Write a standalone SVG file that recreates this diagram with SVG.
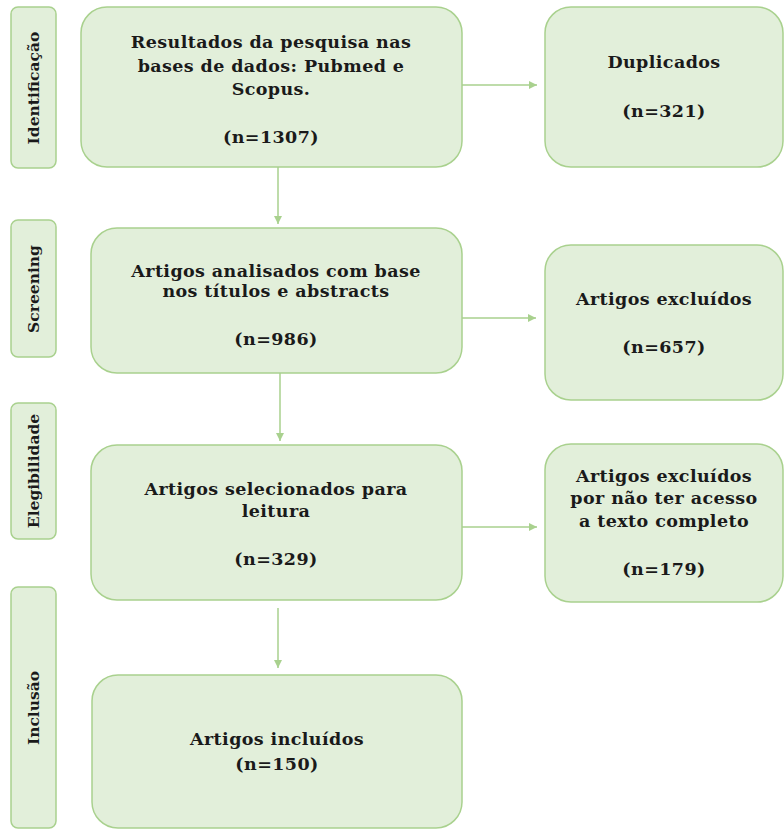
<svg xmlns="http://www.w3.org/2000/svg" width="784" height="830" viewBox="0 0 784 830">
<defs>
<style>
.box{fill:#e2efda;stroke:#a9d18e;stroke-width:1.5}
.t{font-family:"DejaVu Serif","Liberation Serif",serif;font-weight:bold;font-size:17.5px;letter-spacing:0.4px;fill:#1a1a1a;text-anchor:middle}
.s{font-family:"DejaVu Serif","Liberation Serif",serif;font-weight:bold;font-size:15.5px;fill:#1a1a1a;text-anchor:middle}
.c{stroke:#a9d18e;stroke-width:1.5;fill:none}
</style>
<marker id="ah" viewBox="0 0 10 10" refX="10" refY="5" markerWidth="8" markerHeight="8" markerUnits="userSpaceOnUse" orient="auto">
<path d="M0,0 L10,5 L0,10 z" fill="#a9d18e"/>
</marker>
</defs>
<g id="lbl-identificacao"><rect class="box" x="11" y="7" width="45" height="161" rx="7"/><text class="s" transform="translate(39,88) rotate(-90)">Identificação</text></g>
<g id="lbl-screening"><rect class="box" x="11" y="220" width="45" height="137" rx="7"/><text class="s" transform="translate(39,289) rotate(-90)">Screening</text></g>
<g id="lbl-elegibilidade"><rect class="box" x="11" y="403" width="45" height="136" rx="7"/><text class="s" transform="translate(39,471) rotate(-90)">Elegibilidade</text></g>
<g id="lbl-inclusao"><rect class="box" x="11" y="587" width="45" height="241" rx="7"/><text class="s" transform="translate(39,708) rotate(-90)">Inclusão</text></g>

<g id="n1"><rect class="box" x="81" y="7" width="381" height="160" rx="26"/>
<text class="t" x="271" y="48">Resultados da pesquisa nas</text>
<text class="t" x="271" y="72">bases de dados: Pubmed e</text>
<text class="t" x="271" y="95">Scopus.</text>
<text class="t" x="271" y="143">(n=1307)</text></g>
<g id="n2"><rect class="box" x="545" y="7" width="238" height="160" rx="26"/>
<text class="t" x="664" y="68">Duplicados</text>
<text class="t" x="664" y="117">(n=321)</text></g>
<g id="n3"><rect class="box" x="91" y="228" width="371" height="145" rx="26"/>
<text class="t" x="276" y="277">Artigos analisados com base</text>
<text class="t" x="276" y="297">nos títulos e abstracts</text>
<text class="t" x="276" y="345">(n=986)</text></g>
<g id="n4"><rect class="box" x="545" y="245" width="238" height="155" rx="26"/>
<text class="t" x="664" y="305">Artigos excluídos</text>
<text class="t" x="664" y="353">(n=657)</text></g>
<g id="n5"><rect class="box" x="91" y="445" width="371" height="155" rx="26"/>
<text class="t" x="276" y="495">Artigos selecionados para</text>
<text class="t" x="276" y="517">leitura</text>
<text class="t" x="276" y="565">(n=329)</text></g>
<g id="n6"><rect class="box" x="545" y="444" width="238" height="158" rx="26"/>
<text class="t" x="664" y="482">Artigos excluídos</text>
<text class="t" x="664" y="504">por não ter acesso</text>
<text class="t" x="664" y="527">a texto completo</text>
<text class="t" x="664" y="575">(n=179)</text></g>
<g id="n7"><rect class="box" x="92" y="675" width="370" height="153" rx="26"/>
<text class="t" x="277" y="745">Artigos incluídos</text>
<text class="t" x="277" y="770">(n=150)</text></g>

<g id="connectors">
<line class="c" x1="462" y1="85" x2="537" y2="85" marker-end="url(#ah)"/>
<line class="c" x1="278" y1="167" x2="278" y2="224" marker-end="url(#ah)"/>
<line class="c" x1="462" y1="318" x2="536" y2="318" marker-end="url(#ah)"/>
<line class="c" x1="280" y1="373" x2="280" y2="441" marker-end="url(#ah)"/>
<line class="c" x1="462" y1="527" x2="537" y2="527" marker-end="url(#ah)"/>
<line class="c" x1="278" y1="608" x2="278" y2="668" marker-end="url(#ah)"/>
</g>
</svg>
